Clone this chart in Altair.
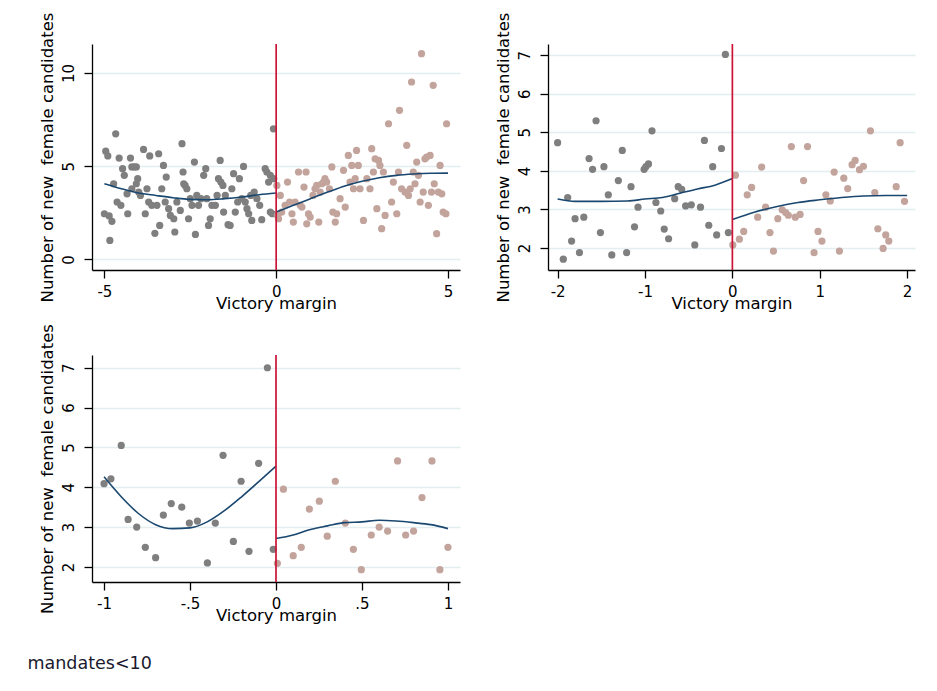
import altair as alt
import pandas as pd

# ---------------- Panel 1 (victory margin -5..5) ----------------
p1_left_x = [-5.0, -4.96, -4.90, -4.86, -4.78, -4.84, -4.67, -4.73, -4.63, -4.57, -4.52, -4.47, -4.42,
             -4.34, -4.32, -4.24, -4.20, -4.20, -4.13, -4.07, -4.07, -4.03, -4.0, -3.95, -3.86, -3.81,
             -3.76, -3.71, -3.68, -3.62, -3.53, -3.47, -3.42, -3.39, -3.33, -3.28, -3.23, -3.20, -3.13,
             -3.08, -2.98, -2.95, -2.89, -2.79, -2.74, -2.71, -2.69, -2.65, -2.60, -2.55, -2.50, -2.45,
             -2.38, -2.35, -2.31, -2.26, -2.19, -2.11, -2.05, -2.02, -1.97, -1.92, -1.87, -1.77, -1.72,
             -1.68, -1.63, -1.61, -1.55, -1.53, -1.48, -1.40, -1.34, -1.29, -1.24, -1.19, -1.12, -1.07,
             -1.0, -0.95, -0.90, -0.85, -0.80, -0.74, -0.71, -0.64, -0.56, -0.48, -0.42, -0.32, -0.27,
             -0.22, -0.17, -0.17, -0.11, -0.08, -0.07]
p1_left_y = [2.45, 5.81, 5.55, 2.33, 2.04, 1.02, 6.74, 4.06, 3.08, 5.44, 2.90, 4.87, 4.51,
             3.52, 2.45, 5.44, 4.96, 3.79, 4.96, 4.96, 4.06, 4.33, 3.61, 3.43, 5.90, 2.45,
             3.79, 3.08, 5.55, 2.90, 1.40, 2.90, 5.67, 1.82, 3.79, 5.04, 3.08, 4.42, 2.72,
             2.36, 2.18, 1.47, 3.08, 2.63, 6.21, 4.69, 4.06, 3.97, 3.79, 2.18, 3.26, 2.90,
             5.22, 1.34, 3.43, 2.90, 3.26, 4.51, 4.87, 3.26, 1.82, 2.18, 2.90, 2.90, 3.43,
             4.33, 5.31, 4.15, 3.97, 2.54, 3.43, 1.86, 1.82, 3.79, 4.60, 2.54, 3.08, 4.33,
             3.26, 4.99, 3.08, 2.72, 2.45, 3.43, 2.09, 3.61, 3.26, 2.90, 2.13, 4.87, 4.69,
             4.15, 4.51, 2.54, 2.45, 7.01, 4.33]
p1_right_x = [0.02, 0.04, 0.07, 0.12, 0.16, 0.26, 0.33, 0.39, 0.46, 0.50, 0.55, 0.65, 0.70, 0.75,
              0.81, 0.87, 0.89, 0.94, 0.99, 1.07, 1.13, 1.18, 1.24, 1.28, 1.33, 1.38, 1.42, 1.47,
              1.55, 1.62, 1.65, 1.72, 1.76, 1.86, 1.96, 2.01, 2.10, 2.15, 2.20, 2.25, 2.30, 2.34,
              2.39, 2.44, 2.54, 2.64, 2.73, 2.78, 2.83, 2.88, 2.93, 2.98, 3.02, 3.07, 3.12, 3.17,
              3.27, 3.36, 3.41, 3.51, 3.56, 3.59, 3.65, 3.75, 3.80, 3.85, 3.90, 3.94, 3.99, 4.04,
              4.09, 4.14, 4.19, 4.23, 4.28, 4.33, 4.38, 4.43, 4.48, 4.52, 4.57, 4.60, 4.67, 4.72,
              4.77, 4.82, 4.86, 4.94, 4.96]
p1_right_y = [3.97, 2.36, 2.18, 3.43, 2.54, 2.90, 4.15, 3.08, 2.45, 2.00, 3.08, 4.69, 2.90, 2.81,
              3.88, 4.69, 1.91, 2.45, 2.27, 3.43, 3.79, 3.97, 2.00, 3.61, 4.06, 4.15, 4.33, 4.15,
              3.79, 4.96, 2.54, 2.00, 2.45, 3.26, 4.78, 2.81, 5.58, 4.15, 5.04, 3.79, 4.33, 5.85,
              5.04, 3.79, 2.09, 4.33, 3.79, 5.94, 4.69, 5.40, 2.72, 5.31, 5.04, 1.65, 4.69, 2.36,
              7.28, 3.08, 4.15, 2.45, 4.69, 8.00, 3.79, 3.61, 6.12, 3.43, 3.79, 9.52, 4.69, 4.06,
              5.22, 4.51, 3.08, 11.04, 3.61, 5.40, 5.49, 2.90, 5.58, 3.61, 9.34, 4.06, 1.38, 3.61,
              5.04, 3.52, 2.54, 2.45, 7.28]
p1_fit_left_x = [-5.0, -4.5, -4.0, -3.5, -3.0, -2.5, -2.0, -1.5, -1.0, -0.5, 0.0]
p1_fit_left_y = [4.06, 3.79, 3.56, 3.43, 3.31, 3.22, 3.20, 3.26, 3.35, 3.47, 3.56]
p1_fit_right_x = [0.0, 0.5, 1.0, 1.5, 2.0, 2.5, 3.0, 3.5, 4.0, 4.5, 5.0]
p1_fit_right_y = [2.54, 2.90, 3.26, 3.61, 3.94, 4.19, 4.38, 4.51, 4.58, 4.62, 4.63]
p1_xticks = [-5, 0, 5]
p1_xtick_labels = ["-5", "0", "5"]
p1_yticks = [0, 5, 10]

# ---------------- Panel 2 (victory margin -2..2) ----------------
p2_left_x = [-2.0, -1.935, -1.885, -1.84, -1.80, -1.75, -1.70, -1.64, -1.60, -1.56, -1.51, -1.47,
             -1.42, -1.38, -1.305, -1.26, -1.21, -1.16, -1.12, -1.08, -1.01, -0.99, -0.96, -0.92,
             -0.875, -0.82, -0.78, -0.73, -0.66, -0.62, -0.58, -0.535, -0.47, -0.43, -0.365, -0.32,
             -0.27, -0.225, -0.18, -0.125, -0.08, -0.046]
p2_left_y = [4.73, 1.71, 3.31, 2.18, 2.76, 1.88, 2.80, 4.32, 4.04, 5.30, 2.40, 4.11,
             3.38, 1.82, 3.75, 4.53, 1.88, 3.59, 2.55, 3.06, 4.04, 4.11, 4.18, 5.04,
             3.18, 2.96, 2.49, 2.24, 3.28, 3.59, 3.52, 3.09, 3.12, 2.08, 3.06, 4.79,
             2.59, 4.11, 2.34, 4.58, 7.02, 2.40]
p2_right_x = [0.005, 0.035, 0.08, 0.13, 0.17, 0.22, 0.29, 0.335, 0.38, 0.43, 0.47, 0.52, 0.57, 0.61,
              0.64, 0.675, 0.72, 0.775, 0.815, 0.86, 0.935, 0.98, 1.025, 1.07, 1.12, 1.165, 1.225,
              1.275, 1.32, 1.37, 1.405, 1.455, 1.50, 1.58, 1.63, 1.665, 1.725, 1.755, 1.79, 1.875,
              1.92, 1.97]
p2_right_y = [2.08, 3.89, 2.23, 2.43, 3.38, 3.57, 2.80, 4.10, 3.06, 2.40, 1.92, 2.76, 2.99, 2.92,
              2.85, 4.63, 2.80, 2.87, 3.75, 4.63, 1.88, 2.43, 2.18, 3.38, 3.22, 3.97, 1.92,
              3.81, 3.54, 4.16, 4.27, 4.03, 4.12, 5.04, 3.44, 2.50, 1.99, 2.34, 2.18, 3.59,
              4.73, 3.21]
p2_fit_left_x = [-2.0, -1.8, -1.5, -1.2, -1.0, -0.8, -0.6, -0.4, -0.2, 0.0]
p2_fit_left_y = [3.27, 3.21, 3.21, 3.22, 3.27, 3.31, 3.42, 3.53, 3.63, 3.80]
p2_fit_right_x = [0.0, 0.25, 0.5, 0.75, 1.0, 1.25, 1.5, 1.75, 2.0]
p2_fit_right_y = [2.74, 2.93, 3.07, 3.18, 3.25, 3.31, 3.35, 3.36, 3.36]
p2_xticks = [-2, -1, 0, 1, 2]
p2_xtick_labels = ["-2", "-1", "0", "1", "2"]
p2_yticks = [2, 3, 4, 5, 6, 7]

# ---------------- Panel 3 (victory margin -1..1) ----------------
p3_left_x = [-1.0, -0.96, -0.90, -0.86, -0.81, -0.76, -0.70, -0.655, -0.609, -0.548, -0.504,
             -0.457, -0.399, -0.353, -0.308, -0.248, -0.203, -0.157, -0.101, -0.05, -0.016]
p3_left_y = [4.09, 4.21, 5.05, 3.19, 3.0, 2.49, 2.23, 3.30, 3.59, 3.50, 3.10,
             3.15, 2.10, 3.10, 4.80, 2.64, 4.15, 2.39, 4.60, 7.0, 2.44]
p3_right_x = [0.008, 0.043, 0.10, 0.147, 0.194, 0.252, 0.298, 0.345, 0.403, 0.45, 0.496,
              0.554, 0.60, 0.649, 0.707, 0.754, 0.80, 0.849, 0.907, 0.953, 1.0]
p3_right_y = [2.09, 3.95, 2.28, 2.49, 3.45, 3.65, 2.77, 4.15, 3.10, 2.44, 1.93,
              2.80, 3.0, 2.90, 4.66, 2.80, 2.90, 3.74, 4.66, 1.93, 2.49]
p3_fit_left_x = [-1.0, -0.9, -0.8, -0.7, -0.6, -0.5, -0.4, -0.3, -0.2, -0.1, 0.0]
p3_fit_left_y = [4.26, 3.76, 3.34, 3.06, 2.96, 2.98, 3.13, 3.41, 3.76, 4.14, 4.53]
p3_fit_right_x = [0.0, 0.1, 0.2, 0.3, 0.4, 0.5, 0.6, 0.7, 0.8, 0.9, 1.0]
p3_fit_right_y = [2.71, 2.80, 2.94, 3.03, 3.11, 3.13, 3.17, 3.15, 3.11, 3.06, 2.96]
p3_xticks = [-1, -0.5, 0, 0.5, 1]
p3_xtick_labels = ["-1", "-.5", "0", ".5", "1"]
p3_yticks = [2, 3, 4, 5, 6, 7]

x_title = "Victory margin"
y_title = "Number of new \u00a0female candidates"
footer = "mandates<10"

GRAY = "#7f7f7f"
ROSE = "#c3a49c"
NAVY = "#1a476f"
RED = "#cc1236"
GRID = "#e4eef0"
FONT = "DejaVu Sans"


def label_expr(ticks, labels):
    expr = "datum.label"
    for t, l in reversed(list(zip(ticks, labels))):
        expr = f"datum.value == {t} ? '{l}' : ({expr})"
    return expr


def panel(lx, ly, rx, ry, flx, fly, frx, fry, xdom, ydom, xticks, xlabels, yticks, w, h):
    pts = pd.DataFrame({"x": lx + rx, "y": ly + ry,
                        "side": ["left"] * len(lx) + ["right"] * len(rx)})
    fit = pd.DataFrame({"x": flx + frx, "y": fly + fry,
                        "side": ["left"] * len(flx) + ["right"] * len(frx)})
    xenc = alt.X("x:Q", scale=alt.Scale(domain=xdom, nice=False, zero=False),
                 axis=alt.Axis(values=xticks, title=x_title, grid=False,
                               labelExpr=label_expr(xticks, xlabels),
                               labelFlush=False, labelPadding=6, titlePadding=-4))
    yenc = alt.Y("y:Q", scale=alt.Scale(domain=ydom, nice=False, zero=False),
                 axis=alt.Axis(values=yticks, title=y_title, grid=True, gridColor=GRID,
                               gridWidth=1.6, labelAngle=270, labelAlign="center",
                               labelBaseline="bottom", labelPadding=8, titlePadding=6,
                               labelOverlap=False, labelFlush=False))
    points = alt.Chart(pts).mark_circle(size=52, opacity=1).encode(
        x=xenc, y=yenc,
        color=alt.Color("side:N", scale=alt.Scale(domain=["left", "right"], range=[GRAY, ROSE]),
                        legend=None))
    line = alt.Chart(fit).mark_line(color=NAVY, strokeWidth=1.6, interpolate="monotone").encode(
        x="x:Q", y="y:Q", detail="side:N")
    rule = alt.Chart(pd.DataFrame({"x": [0]})).mark_rule(color=RED, strokeWidth=1.7).encode(x="x:Q")
    return alt.layer(points, line, rule).properties(width=w, height=h)


c1 = panel(p1_left_x, p1_left_y, p1_right_x, p1_right_y, p1_fit_left_x, p1_fit_left_y,
           p1_fit_right_x, p1_fit_right_y, [-5.36, 5.35], [-0.57, 11.56], p1_xticks,
           p1_xtick_labels, p1_yticks, 368, 226)
c2 = panel(p2_left_x, p2_left_y, p2_right_x, p2_right_y, p2_fit_left_x, p2_fit_left_y,
           p2_fit_right_x, p2_fit_right_y, [-2.11, 2.09], [1.43, 7.29], p2_xticks,
           p2_xtick_labels, p2_yticks, 367, 226)
c3 = panel(p3_left_x, p3_left_y, p3_right_x, p3_right_y, p3_fit_left_x, p3_fit_left_y,
           p3_fit_right_x, p3_fit_right_y, [-1.07, 1.07], [1.62, 7.32], p3_xticks,
           p3_xtick_labels, p3_yticks, 368, 227)

chart = alt.concat(c1, c2, c3, columns=2, spacing={"row": 85, "column": 88}, bounds="flush").properties(
    title=alt.TitleParams(footer, orient="bottom", anchor="start", fontSize=17.5,
                          fontWeight="normal", font=FONT, color="#1a1a2e", offset=31, dx=-11),
    padding={"left": 19, "top": 3, "right": 5, "bottom": 5},
).configure_view(stroke="transparent").configure_axis(
    domainColor="black", domainWidth=1.3, tickColor="black", tickWidth=1.3, tickSize=8,
    labelFont=FONT, labelFontSize=15, labelColor="black",
    titleFont=FONT, titleFontSize=16.5, titleFontWeight="normal", titleColor="black",
)

chart.save("out.html", embed_options={"renderer": "svg", "actions": False})
